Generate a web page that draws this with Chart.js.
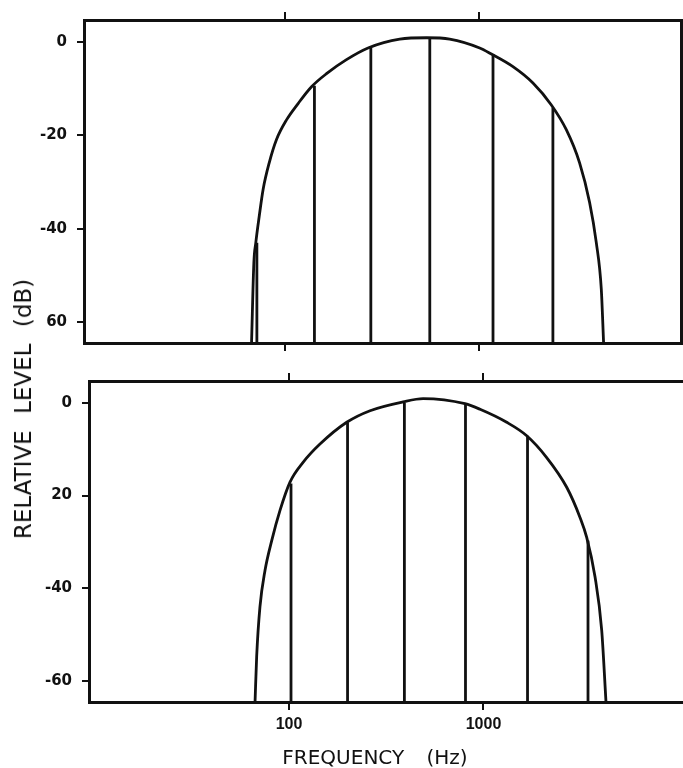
<!DOCTYPE html>
<html>
<head>
<meta charset="utf-8">
<title>Relative level vs frequency</title>
<script src="https://cdn.jsdelivr.net/npm/chart.js@4.4.1/dist/chart.umd.min.js"></script>
<style>
  html, body { margin: 0; padding: 0; background: #fff; }
  #wrap { position: relative; width: 683px; height: 768px; overflow: hidden; }
  canvas { position: absolute; left: 0; }
  #topChart { top: 0; }
  #bottomChart { top: 362px; }
  .ytitle {
    position: absolute; left: 23px; top: 409px;
    transform: translate(-50%, -50%) rotate(-90deg);
    white-space: nowrap; color: #111;
    font: 23px "DejaVu Sans", sans-serif; word-spacing: 9px;
  }
  .xtitle {
    position: absolute; left: 375px; top: 757px;
    transform: translate(-50%, -50%);
    white-space: nowrap; color: #111;
    font: 20px "DejaVu Sans", sans-serif; word-spacing: 16px;
  }
</style>
</head>
<body>
<div id="wrap">
  <canvas id="topChart" width="683" height="362"></canvas>
  <canvas id="bottomChart" width="683" height="406"></canvas>
  <div class="ytitle">RELATIVE LEVEL (dB)</div>
  <div class="xtitle">FREQUENCY (Hz)</div>
</div>
<script>
// axis limits (Hz on a log scale, dB)
var topFreqRange = [9.26, 10990];
var botFreqRange = [9.37, 10610];
var levelRange = [-64.5, 4.7];

var freqTicks = [100, 1000];
var freqTickLabels = ['100', '1000'];
var levelTicks = [0, -20, -40, -60];
var topLevelLabels = ['0', '-20', '-40', '60'];
var botLevelLabels = ['0', '20', '-40', '-60'];

// upper panel: envelope curve and the line components under it
var topEnvFreq = [67.4, 69.3, 70.9, 73.8, 77.3, 83.1, 90.6, 102, 117, 137.2, 163.8, 207.6, 268, 390, 537, 705, 1006, 1155, 1492, 1891, 2351, 2807, 3286, 3700, 4005, 4250, 4367];
var topEnvLevel = [-64.5, -47.2, -43, -37.4, -31.6, -25.9, -20.9, -16.7, -13.2, -9.6, -6.8, -3.8, -1.3, 0.6, 0.9, 0.6, -1.3, -2.6, -5.3, -8.8, -13.5, -18.8, -25.9, -34.4, -43, -53, -64.5];
var topLineFreq = [71.8, 142, 277, 557, 1178, 2395];
var topLineLevel = [-43, -9.4, -1.3, 0.8, -2.6, -14.1];

// lower panel
var botEnvFreq = [66.9, 68.2, 70.9, 75.3, 81.5, 89.9, 101.2, 118.4, 144.3, 198, 261, 386, 489, 803, 960, 1316, 1668, 2113, 2678, 3135, 3393, 3744, 4052, 4264];
var botEnvLevel = [-64.5, -54.7, -44, -36.1, -29.7, -23.2, -17.1, -12.8, -8.9, -4.2, -1.7, 0.2, 0.9, -0.2, -1.4, -4.2, -7.1, -11.8, -18.2, -24.7, -29, -37.5, -49, -64.5];
var botLineFreq = [102.4, 200, 392, 808, 1684, 3446];
var botLineLevel = [-17.4, -4.2, 0, -0.3, -7.1, -29.7];

var ink = '#111';

function tickGrid(len) {
    // only the short outside tick marks, nothing across the plot
    return { display: true, drawOnChartArea: false, drawTicks: true, tickLength: len, color: ink, lineWidth: 2 };
}
function frame() {
    return { display: true, color: ink, width: 3 };
}
function setFreqTicks(scale) {
    scale.ticks = freqTicks.map(function(v){ return { value: v }; });
}
function setLevelTicks(scale) {
    scale.ticks = levelTicks.map(function(v){ return { value: v }; });
}

function makePanel(id, cfg) {
    var datasets = [{
        data: cfg.envFreq.map(function(f, i){ return { x: f, y: cfg.envLevel[i] }; }),
        borderColor: ink,
        borderWidth: 2.8,
        pointRadius: 0,
        cubicInterpolationMode: 'monotone',
        xAxisID: 'x',
        yAxisID: 'y'
    }];
    // each component is a vertical line from the floor up to its level
    cfg.lineFreq.forEach(function(f, i){
        datasets.push({
            data: [{ x: f, y: levelRange[0] }, { x: f, y: cfg.lineLevel[i] }],
            borderColor: ink,
            borderWidth: 2.8,
            pointRadius: 0,
            xAxisID: 'x',
            yAxisID: 'y'
        });
    });

    var scales = {
        x: {
            type: 'logarithmic', position: 'bottom',
            min: cfg.range[0], max: cfg.range[1],
            afterBuildTicks: setFreqTicks,
            ticks: {
                display: cfg.freqLabels, color: ink, padding: 5, maxRotation: 0, autoSkip: false,
                font: { family: '"Liberation Sans", Arial, sans-serif', size: 16, weight: 'bold' },
                callback: function(v, i){ return freqTickLabels[i]; }
            },
            grid: tickGrid(8),
            border: frame(),
            afterFit: function(s){ s.height = cfg.bottomH; }
        },
        x2: {
            type: 'logarithmic', axis: 'x', position: 'top',
            min: cfg.range[0], max: cfg.range[1],
            afterBuildTicks: setFreqTicks,
            ticks: { display: false },
            grid: tickGrid(8),
            border: frame(),
            afterFit: function(s){ s.height = cfg.topH; }
        },
        y: {
            type: 'linear', position: 'left',
            min: levelRange[0], max: levelRange[1],
            afterBuildTicks: setLevelTicks,
            ticks: {
                color: ink, padding: 10,
                font: { family: '"DejaVu Sans", sans-serif', size: 15, weight: 'bold' },
                callback: function(v, i){ return cfg.levelLabels[i]; }
            },
            grid: tickGrid(7),
            border: frame(),
            afterFit: function(s){ s.width = cfg.leftW; }
        }
    };
    if (cfg.rightFrame) {
        scales.yR = {
            type: 'linear', axis: 'y', position: 'right',
            min: levelRange[0], max: levelRange[1],
            ticks: { display: false },
            grid: { display: false, drawTicks: false },
            border: frame(),
            afterFit: function(s){ s.width = 1.5; }
        };
    }

    return new Chart(document.getElementById(id), {
        type: 'line',
        data: { datasets: datasets },
        options: {
            responsive: false,
            animation: false,
            layout: { padding: 0 },
            plugins: { legend: { display: false }, tooltip: { enabled: false } },
            scales: scales
        }
    });
}

makePanel('topChart', {
    range: topFreqRange,
    envFreq: topEnvFreq, envLevel: topEnvLevel,
    lineFreq: topLineFreq, lineLevel: topLineLevel,
    levelLabels: topLevelLabels,
    freqLabels: false,
    topH: 20, bottomH: 18, leftW: 84,
    rightFrame: true
});

makePanel('bottomChart', {
    range: botFreqRange,
    envFreq: botEnvFreq, envLevel: botEnvLevel,
    lineFreq: botLineFreq, lineLevel: botLineLevel,
    levelLabels: botLevelLabels,
    freqLabels: true,
    topH: 18, bottomH: 66, leftW: 89,
    rightFrame: false
});
</script>
</body>
</html>
